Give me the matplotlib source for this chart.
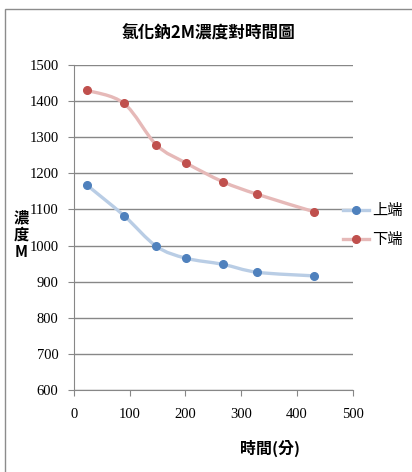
#coding: utf-8
import numpy as np
import matplotlib as mpl
mpl.use('Agg')
import matplotlib.pyplot as plt
from matplotlib.path import Path
from matplotlib.patches import PathPatch, Rectangle

# data
times = [24, 90, 148, 201, 267, 329, 430]
upper = [1167, 1083, 998, 965, 948, 926, 916]
lower = [1430, 1394, 1279, 1229, 1177, 1142, 1094]
series_names = ['上端', '下端']

cjk = ['Noto Sans CJK TC', 'DejaVu Sans']
serif = 'Liberation Serif'


def smooth_path(xs, ys):
    # Excel-like smoothed line: cubic bezier through the points (catmull-rom)
    p = np.column_stack([xs, ys]).astype(float)
    ext = np.vstack([p[0], p, p[-1]])
    verts = [p[0]]
    codes = [Path.MOVETO]
    for i in range(len(p) - 1):
        p0, p1, p2, p3 = ext[i], ext[i + 1], ext[i + 2], ext[i + 3]
        c1 = p1 + (p2 - p0) / 6.0
        c2 = p2 - (p3 - p1) / 6.0
        verts += [c1, c2, p2]
        codes += [Path.CURVE4] * 3
    return Path(verts, codes)


fig = plt.figure(figsize=(4.12, 4.72), dpi=100)
fig.patches.append(Rectangle((5 / 412, -0.1), 1.2, 1 - 9 / 472 + 0.1,
                             transform=fig.transFigure, fill=False,
                             edgecolor='#8c8c8c', linewidth=1.0))

ax = fig.add_axes([0.179, 0.174, 0.677, 0.688])

styles = [('#4f81bd', '#b9cde5'), ('#c0504d', '#e6b9b8')]
for vals, name, (mc, lc) in zip([upper, lower], series_names, styles):
    ax.add_patch(PathPatch(smooth_path(times, vals), fill=False,
                           edgecolor=lc, linewidth=2.4, zorder=3))
    ax.plot(times, vals, linestyle='none', marker='o', markersize=5.5,
            color=mc, zorder=4)
    # legend proxy
    ax.plot([], [], color=lc, linewidth=2.4, marker='o', markersize=5.5,
            markerfacecolor=mc, markeredgecolor=mc, label=name)

ax.set_xlim(0, 500)
ax.set_ylim(600, 1500)
ax.set_xticks(range(0, 501, 100))
ax.set_yticks(range(600, 1501, 100))
ax.grid(axis='y', color='#878787', linewidth=1.0)
ax.set_axisbelow(True)
for s in ['top', 'right']:
    ax.spines[s].set_visible(False)
for s in ['left', 'bottom']:
    ax.spines[s].set_color('#878787')
ax.tick_params(axis='both', color='#878787', length=4, labelsize=10.5)
ax.tick_params(axis='x', pad=9)
ax.tick_params(axis='y', pad=7)
for lab in ax.get_xticklabels() + ax.get_yticklabels():
    lab.set_family(serif)

fig.text(0.507, 0.930, '氯化鈉2M濃度對時間圖', ha='center', va='center',
         family=cjk, fontsize=12, fontweight='bold')
fig.text(0.052, 0.502, '濃\n度\nM', ha='center', va='center',
         family=cjk, fontsize=11, fontweight='bold', linespacing=1.1)
fig.text(0.655, 0.051, '時間(分)', ha='center', va='center',
         family=cjk, fontsize=11.5, fontweight='bold')

leg = fig.legend(loc='center left', bbox_to_anchor=(343 / 412, 0.523),
                 bbox_transform=fig.transFigure, frameon=False,
                 prop={'family': cjk, 'size': 11}, handlelength=1.7,
                 handletextpad=0.2, labelspacing=0.75, borderpad=0,
                 borderaxespad=0)

plt.savefig('out.png', dpi=100)
plt.close()
